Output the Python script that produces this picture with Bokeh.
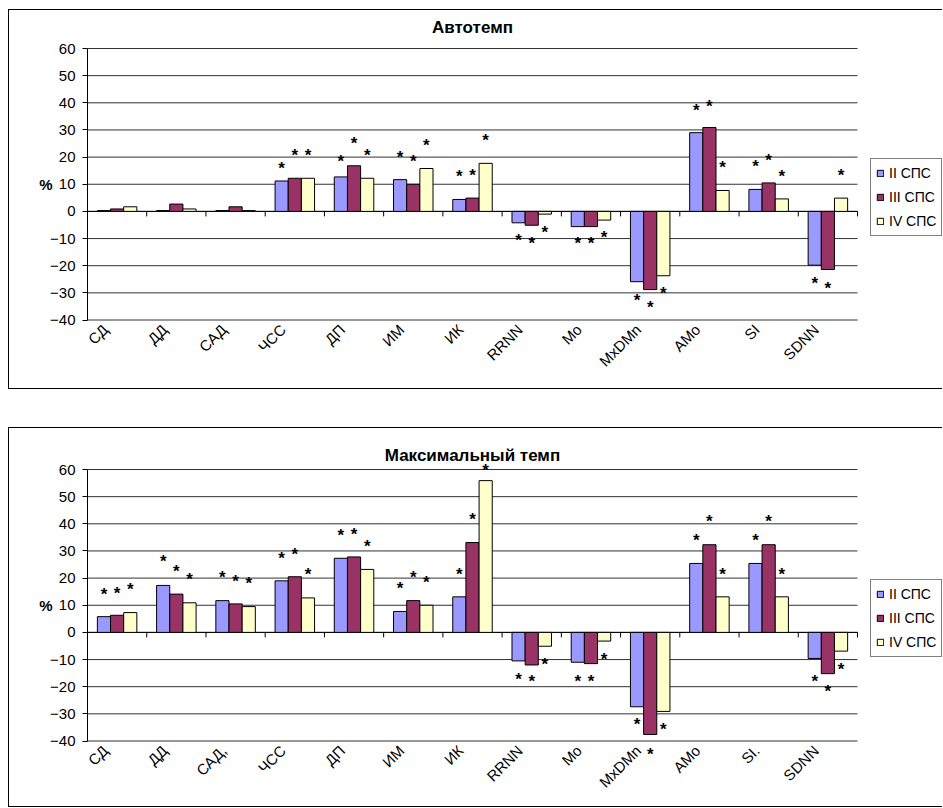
import math
from bokeh.plotting import figure
from bokeh.layouts import column
from bokeh.core.properties import value
from bokeh.models import (ColumnDataSource, FixedTicker, Legend, LegendItem,
                          LinearAxis, Range1d)
from bokeh.embed import file_html
from bokeh.resources import INLINE

FONT = "Liberation Sans"

series = ["II СПС", "III СПС", "IV СПС"]
colors = ["#9999FF", "#993366", "#FFFFCC"]
y_ticks = [-40, -30, -20, -10, 0, 10, 20, 30, 40, 50, 60]

# --- Автотемп ---
cats_auto = ["СД", "ДД", "САД", "ЧСС", "ДП", "ИМ", "ИК", "RRNN", "Mo", "MxDMn", "AMo", "SI", "SDNN"]
auto_ii = [0.3, 0.3, 0.3, 11.2, 12.7, 11.7, 4.4, -4.2, -5.6, -25.9, 29.0, 8.1, -19.8]
auto_iii = [0.9, 2.7, 1.7, 12.2, 16.8, 10.0, 4.9, -5.1, -5.6, -28.8, 30.9, 10.5, -21.4]
auto_iv = [1.7, 0.9, 0.3, 12.2, 12.2, 15.8, 17.7, -1.0, -3.2, -23.7, 7.7, 4.6, 4.9]
# height of the significance marks (None = no mark)
auto_star_ii = [None, None, None, 16.4, 19.1, 20.7, 13.5, -10.0, -11.2, -31.9, 38.0, 17.2, -25.7]
auto_star_iii = [None, None, None, 21.4, 25.9, 19.0, 14.1, -11.2, -11.2, -34.6, 39.5, 19.4, -27.5]
auto_star_iv = [None, None, None, 21.4, 21.4, 24.9, 26.8, -7.2, -9.0, -29.4, 16.8, 13.5, 14.1]

# --- Максимальный темп ---
cats_max = ["СД", "ДД", "САД,", "ЧСС", "ДП", "ИМ", "ИК", "RRNN", "Mo", "MxDMn", "AMo", "SI.", "SDNN"]
max_ii = [5.8, 17.3, 11.7, 19.0, 27.3, 7.7, 13.1, -10.5, -11.0, -27.4, 25.4, 25.4, -9.6]
max_iii = [6.3, 14.1, 10.5, 20.5, 27.8, 11.7, 33.1, -12.0, -11.5, -37.6, 32.3, 32.3, -15.2]
max_iv = [7.3, 10.9, 9.5, 12.7, 23.2, 10.0, 55.9, -5.1, -3.2, -29.1, 13.1, 13.1, -6.9]
max_star_ii = [14.8, 26.9, 21.0, 28.1, 36.4, 16.8, 22.0, -16.5, -17.5, -33.3, 34.6, 34.6, -17.5]
max_star_iii = [15.2, 23.2, 19.5, 29.4, 36.8, 21.0, 42.3, -17.5, -17.3, -44.1, 41.5, 41.5, -21.0]
max_star_iv = [16.4, 20.1, 18.8, 22.0, 32.5, 19.1, 60.2, -11.0, -9.3, -35.2, 22.2, 22.2, -12.8]

# geometry (pixels)
CANVAS_W, CANVAS_H = 934, 380
LEFT = 78                      # room for the value axis
PLOT_W = 770                   # width of the category area
PX_PER_UNIT = 2.715            # vertical scale
BAR_W = 1 / 4.5                # three touching bars, gap of 1.5 bar widths
LABEL_SHIFT = 0.2              # rotated category labels sit slightly left of centre


def build(title, cats, values, stars, top_gap, title_gap, legend_bottom):
    n = len(cats)
    frame_w = CANVAS_W - LEFT
    x_end = frame_w / (PLOT_W / n)
    y_top = 60 + top_gap / PX_PER_UNIT
    y_bot = y_top - CANVAS_H / PX_PER_UNIT

    p = figure(width=CANVAS_W, height=CANVAS_H,
               x_range=Range1d(0, x_end), y_range=Range1d(y_bot, y_top),
               x_axis_location=None, output_backend="svg", toolbar_location=None,
               title=None, min_border_left=LEFT, min_border_right=0,
               min_border_top=0, min_border_bottom=0,
               outline_line_color=None, background_fill_color="white",
               border_fill_color="white",
               styles={"border-left": "1px solid black", "border-top": "1px solid black",
                       "border-bottom": "1px solid black"})
    p.xgrid.visible = False
    p.ygrid.visible = False

    # value axis
    ya = p.yaxis[0]
    ya.ticker = FixedTicker(ticks=y_ticks)
    ya.bounds = (min(y_ticks), max(y_ticks))
    ya.axis_line_color = "black"
    ya.major_tick_line_color = "black"
    ya.major_tick_out = 5
    ya.major_tick_in = 0
    ya.minor_tick_line_color = None
    ya.major_label_standoff = 7
    ya.major_label_text_font = FONT
    ya.major_label_text_font_size = "15px"
    ya.major_label_text_color = "black"

    # unit label, centred on the value scale
    unit = LinearAxis(ticker=FixedTicker(ticks=[10]), major_label_overrides={10: "%"},
                      axis_line_color=None, major_tick_line_color=None,
                      minor_tick_line_color=None, major_label_standoff=-11,
                      major_label_text_font=FONT, major_label_text_font_size="15px",
                      major_label_text_font_style="bold", major_label_text_color="black")
    p.add_layout(unit, "left")

    # horizontal grid lines, limited to the category area
    p.segment(x0=[0] * len(y_ticks), y0=y_ticks, x1=[n] * len(y_ticks), y1=y_ticks,
              line_color="#333333", line_width=1)
    # zero line with category separators
    p.segment(x0=[0], y0=[0], x1=[n], y1=[0], line_color="black", line_width=1)
    bounds = list(range(1, n + 1))
    tick_len = 5 / PX_PER_UNIT
    p.segment(x0=bounds, y0=[0] * n, x1=bounds, y1=[-tick_len] * n,
              line_color="black", line_width=1)

    # category labels
    lab = ColumnDataSource(dict(x=[i + 0.5 - LABEL_SHIFT for i in range(n)],
                                y=[min(y_ticks)] * n, t=cats))
    p.text(x="x", y="y", text="t", source=lab, angle=math.pi / 4,
           text_align=value("right"), text_baseline=value("middle"), y_offset=7,
           text_font=value(FONT), text_font_size=value("15px"), text_color="black")

    items = []
    for k, (vals, st) in enumerate(zip(values, stars)):
        xs = [i + 0.5 + (k - 1) * BAR_W for i in range(n)]
        src = ColumnDataSource(dict(x=xs, top=vals))
        r = p.vbar(x="x", top="top", bottom=0, width=BAR_W, source=src,
                   fill_color=colors[k], line_color="black", line_width=1)
        items.append(LegendItem(label=series[k], renderers=[r]))
        sx = [x for x, s in zip(xs, st) if s is not None]
        sy = [s for s in st if s is not None]
        ssrc = ColumnDataSource(dict(x=sx, y=sy, t=["*"] * len(sx)))
        p.text(x="x", y="y", text="t", source=ssrc, y_offset=2,
               text_align=value("center"), text_baseline=value("middle"),
               text_font=value(FONT), text_font_size=value("17px"),
               text_font_style=value("bold"), text_color="black")

    # chart title
    tsrc = ColumnDataSource(dict(x=[n / 2], y=[max(y_ticks)], t=[title]))
    p.text(x="x", y="y", text="t", source=tsrc, y_offset=-title_gap,
           text_align=value("center"), text_baseline=value("middle"),
           text_font=value(FONT), text_font_size=value("17px"),
           text_font_style=value("bold"), text_color="black")

    legend = Legend(items=items, location=(PLOT_W + 13, legend_bottom),
                    border_line_color="black", border_line_width=1,
                    background_fill_color="white", background_fill_alpha=1,
                    padding=5, spacing=6, margin=0, label_height=18,
                    glyph_height=8, glyph_width=8, label_standoff=5,
                    label_text_font=FONT, label_text_font_size="14px",
                    label_text_color="black")
    p.add_layout(legend)
    return p


p1 = build("Автотемп", cats_auto, [auto_ii, auto_iii, auto_iv],
           [auto_star_ii, auto_star_iii, auto_star_iv], 38, 21, 154)
p2 = build("Максимальный темп", cats_max, [max_ii, max_iii, max_iv],
           [max_star_ii, max_star_iii, max_star_iv], 41, 14, 151)
p1.margin = (9, 0, 0, 8)
p2.margin = (38, 0, 0, 8)

layout = column(p1, p2, spacing=0)
open("out.html", "w").write(file_html(layout, INLINE))
